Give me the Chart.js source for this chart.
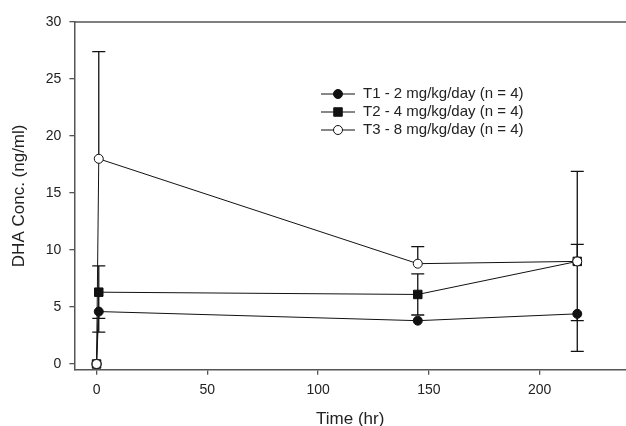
<!DOCTYPE html>
<html lang="en">
<head>
    <meta charset="UTF-8">
    <title>DHA Concentration</title>
    <script src="https://cdn.jsdelivr.net/npm/chart.js@4.4.0/dist/chart.umd.min.js"></script>
    <style>
        html, body { margin: 0; padding: 0; background: #fff; overflow: hidden; }
        canvas { display: block; }
    </style>
</head>
<body>

    <canvas id="myChart" width="626" height="426"></canvas>

    <script>
        // Data block
        const timeHr = [0, 1, 145, 217];
        const seriesLabels = ['T1 - 2 mg/kg/day (n = 4)', 'T2 - 4 mg/kg/day (n = 4)', 'T3 - 8 mg/kg/day (n = 4)'];
        const t1Conc = [0, 4.6, 3.8, 4.4];
        const t2Conc = [0, 6.3, 6.1, 9.0];
        const t3Conc = [0, 18.0, 8.8, 9.0];
        const t1ErrUp = [0, 0, 0, 0];
        const t1ErrDown = [0, 1.8, 0, 0.6];
        const t2ErrUp = [0, 2.3, 1.8, 1.5];
        const t2ErrDown = [0, 2.3, 1.8, 0];
        const t3ErrUp = [0, 9.4, 1.5, 7.9];
        const t3ErrDown = [0, 0, 0, 7.9];
        const xTicks = [0, 50, 100, 150, 200];
        const yTicks = [0, 5, 10, 15, 20, 25, 30];

        const fontFamily = "'Liberation Sans', Arial, sans-serif";
        const axisColor = '#555';
        const ink = '#111';

        const toPoints = vals => vals.map((v, i) => ({ x: timeHr[i], y: v }));

        // error bars, drawn under the markers
        const errorBars = {
            id: 'errorBars',
            beforeDatasetsDraw(chart) {
                const { ctx, scales: { x, y } } = chart;
                ctx.save();
                ctx.strokeStyle = ink;
                ctx.lineWidth = 1.3;
                chart.data.datasets.forEach(ds => {
                    ds.data.forEach((p, i) => {
                        const px = x.getPixelForValue(p.x);
                        const p0 = y.getPixelForValue(p.y);
                        [p.y + ds.errUp[i], p.y - ds.errDown[i]].forEach(v => {
                            if (v === p.y) return;
                            const py = y.getPixelForValue(v);
                            ctx.beginPath();
                            ctx.moveTo(px, p0);
                            ctx.lineTo(px, py);
                            ctx.moveTo(px - 6.5, py);
                            ctx.lineTo(px + 6.5, py);
                            ctx.stroke();
                        });
                    });
                });
                ctx.restore();
            }
        };

        // top frame line + line/marker legend
        const frameAndLegend = {
            id: 'frameAndLegend',
            afterDraw(chart) {
                const { ctx, chartArea } = chart;
                ctx.save();
                ctx.strokeStyle = axisColor;
                ctx.lineWidth = 1.5;
                ctx.beginPath();
                ctx.moveTo(chartArea.left, chartArea.top);
                ctx.lineTo(chartArea.right, chartArea.top);
                ctx.stroke();

                const x0 = 321, x1 = 355, mx = 338, tx = 363;
                const rows = [94, 112, 130];
                ctx.font = '15px ' + fontFamily;
                ctx.textBaseline = 'middle';
                chart.data.datasets.forEach((ds, i) => {
                    const yy = rows[i];
                    ctx.strokeStyle = ink;
                    ctx.lineWidth = 1;
                    ctx.beginPath();
                    ctx.moveTo(x0, yy);
                    ctx.lineTo(x1, yy);
                    ctx.stroke();
                    ctx.fillStyle = ds.pointBackgroundColor;
                    ctx.beginPath();
                    if (ds.pointStyle === 'rect') {
                        const h = ds.pointRadius * Math.SQRT1_2;
                        ctx.rect(mx - h, yy - h, 2 * h, 2 * h);
                    } else {
                        ctx.arc(mx, yy, ds.pointRadius, 0, Math.PI * 2);
                    }
                    ctx.fill();
                    ctx.stroke();
                    ctx.fillStyle = '#222';
                    ctx.fillText(ds.label, tx, yy);
                });
                ctx.restore();
            }
        };

        // Setup Block
        const data = {
            datasets: [
                {
                    label: seriesLabels[0], data: toPoints(t1Conc), errUp: t1ErrUp, errDown: t1ErrDown,
                    pointStyle: 'circle', pointRadius: 4.5, pointBackgroundColor: ink, order: 3
                },
                {
                    label: seriesLabels[1], data: toPoints(t2Conc), errUp: t2ErrUp, errDown: t2ErrDown,
                    pointStyle: 'rect', pointRadius: 6, pointBackgroundColor: ink, order: 2
                },
                {
                    label: seriesLabels[2], data: toPoints(t3Conc), errUp: t3ErrUp, errDown: t3ErrDown,
                    pointStyle: 'circle', pointRadius: 4.5, pointBackgroundColor: '#fff', order: 1
                }
            ].map(ds => Object.assign(ds, {
                borderColor: ink,
                borderWidth: 1,
                pointBorderColor: ink,
                pointBorderWidth: 1,
                tension: 0,
                fill: false
            }))
        };

        // Config Block
        const config = {
            type: 'line',
            data,
            plugins: [errorBars, frameAndLegend],
            options: {
                responsive: false,
                animation: false,
                devicePixelRatio: 1,
                layout: { padding: { top: 22, right: 0, left: 0, bottom: 0 }, autoPadding: false },
                scales: {
                    x: {
                        type: 'linear',
                        min: -10,
                        max: 239,
                        afterBuildTicks: s => { s.ticks = xTicks.map(v => ({ value: v })); },
                        afterFit: s => { s.height = 56.3; },
                        grid: { drawOnChartArea: false, tickLength: 5, color: axisColor, lineWidth: 1.3 },
                        border: { color: axisColor, width: 1.5 },
                        ticks: { color: '#222', font: { family: fontFamily, size: 14 }, padding: 7, maxRotation: 0 },
                        title: {
                            display: true, text: 'Time (hr)', color: '#222',
                            font: { family: fontFamily, size: 17 }, padding: { top: 0, bottom: -4 }
                        }
                    },
                    y: {
                        min: -0.5,
                        max: 30,
                        afterBuildTicks: s => { s.ticks = yTicks.map(v => ({ value: v })); },
                        afterFit: s => { s.width = 74.4; },
                        grid: { drawOnChartArea: false, tickLength: 5, color: axisColor, lineWidth: 1.3 },
                        border: { color: axisColor, width: 1.5 },
                        ticks: { color: '#222', font: { family: fontFamily, size: 14 }, padding: 8 },
                        title: {
                            display: true, text: 'DHA Conc. (ng/ml)', color: '#222',
                            font: { family: fontFamily, size: 17 }, padding: { top: 9, bottom: 0 }
                        }
                    }
                },
                plugins: {
                    legend: { display: false },
                    tooltip: { enabled: false }
                }
            }
        };

        // Render block
        const myChart = new Chart(document.getElementById('myChart'), config);
    </script>

</body>
</html>
